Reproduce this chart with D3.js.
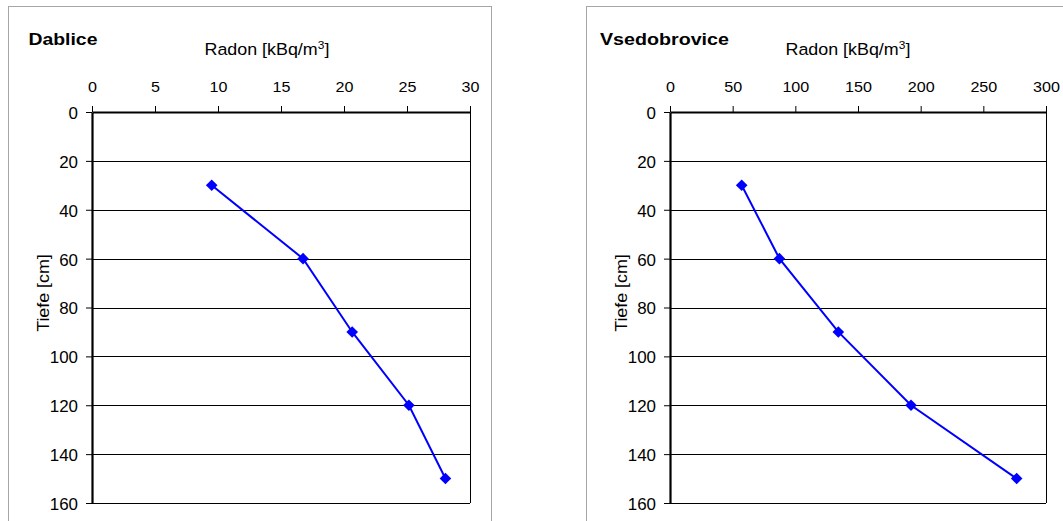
<!DOCTYPE html>
<html>
<head>
<meta charset="utf-8">
<script src="https://cdn.jsdelivr.net/npm/d3@7"></script>
<style>
  html, body { margin: 0; padding: 0; background: #fff; }
  svg { display: block; font-family: "Liberation Sans", Arial, sans-serif; }
</style>
</head>
<body>
<svg id="chart" width="1063" height="521"></svg>
<script>
// Radon soil-gas profiles: concentration vs. depth at two sites
const depths = [30, 60, 90, 120, 150];
const dabliceRadon = [9.5, 16.75, 20.65, 25.15, 28.05];
const vsedobroviceRadon = [57.2, 87.3, 134.3, 192.3, 276.6];
const dabliceTicks = [0, 5, 10, 15, 20, 25, 30];
const vsedobroviceTicks = [0, 50, 100, 150, 200, 250, 300];
const depthTicks = [0, 20, 40, 60, 80, 100, 120, 140, 160];

const svg = d3.select("#chart");
const FONT = "'Liberation Sans', Arial, sans-serif";

// place a text at (x, y) and stretch it horizontally to a given width
function fitText(sel, x, y, width) {
  const w = sel.node().getComputedTextLength();
  sel.attr("x", 0).attr("y", 0)
    .attr("transform", `translate(${x},${y}) scale(${width / w},1)`);
}

// slightly widen axis tick labels, keeping their anchor point fixed
function widenTicks(sel, k) {
  sel.each(function () {
    const t = d3.select(this);
    const tx = +t.attr("x") || 0, ty = +t.attr("y") || 0;
    t.attr("x", 0).attr("y", 0)
      .attr("transform", `translate(${tx},${ty}) scale(${k},1)`);
  });
}

function panel(cfg) {
  const g = svg.append("g");

  // chart frame
  g.append("rect")
    .attr("x", cfg.frame[0] + 0.5).attr("y", cfg.frame[1] + 0.5)
    .attr("width", cfg.frame[2]).attr("height", cfg.frame[3])
    .attr("fill", "#fff").attr("stroke", "#a6a6a6").attr("stroke-width", 1);

  const x = d3.scaleLinear().domain([0, cfg.xMax]).range([cfg.left, cfg.right]);
  const y = d3.scaleLinear().domain([0, 160]).range([cfg.top, cfg.bottom]);

  // horizontal gridlines
  g.append("g").selectAll("line").data(depthTicks.slice(1))
    .join("line")
    .attr("x1", cfg.left).attr("x2", cfg.right)
    .attr("y1", d => Math.round(y(d)) + 0.5).attr("y2", d => Math.round(y(d)) + 0.5)
    .attr("stroke", "#000").attr("stroke-width", 1);

  // right border of plot area
  g.append("line")
    .attr("x1", cfg.right + 0.5).attr("x2", cfg.right + 0.5)
    .attr("y1", cfg.top).attr("y2", cfg.bottom)
    .attr("stroke", "#000").attr("stroke-width", 1);

  // x axis on top
  const xAxis = d3.axisTop(x).tickValues(cfg.xTicks).tickSize(6).tickPadding(14).tickSizeOuter(0);
  const gx = g.append("g").attr("transform", `translate(0,${cfg.top})`).call(xAxis);
  gx.attr("font-size", null).attr("font-family", null);
  gx.select(".domain").attr("stroke-width", 2.2);
  gx.selectAll(".tick text")
    .style("font-size", "15.5px").style("font-family", FONT).attr("fill", "#000");
  widenTicks(gx.selectAll(".tick text"), 1.04);

  // y axis on the left, depth increases downward
  const yAxis = d3.axisLeft(y).tickValues(depthTicks).tickSize(6).tickPadding(8).tickSizeOuter(0);
  const gy = g.append("g").attr("transform", `translate(${cfg.left},0)`).call(yAxis);
  gy.attr("font-size", null).attr("font-family", null);
  gy.select(".domain").attr("stroke-width", 2.2);
  gy.selectAll(".tick text")
    .style("font-size", "16px").style("font-family", FONT).attr("fill", "#000")
    .attr("dy", "0.4em");
  widenTicks(gy.selectAll(".tick text"), 1.06);

  // profile line and diamond markers
  const pts = depths.map((d, i) => [cfg.values[i], d]);
  g.append("path")
    .datum(pts)
    .attr("d", d3.line().x(d => x(d[0])).y(d => y(d[1])))
    .attr("fill", "none").attr("stroke", "#0000ff").attr("stroke-width", 2);

  g.append("g").selectAll("path").data(pts)
    .join("path")
    .attr("transform", d => `translate(${x(d[0])},${y(d[1])})`)
    .attr("d", "M0,-5.8L5.8,0L0,5.8L-5.8,0Z")
    .attr("fill", "#0000ff");

  // titles
  const t = g.append("text")
    .style("font-size", "17px").attr("font-weight", "bold").attr("fill", "#000")
    .text(cfg.title);
  fitText(t, cfg.titleX, 44.5, cfg.titleW);

  const xt = g.append("text").style("font-size", "16.5px").attr("fill", "#000");
  xt.append("tspan").text("Radon [kBq/m");
  xt.append("tspan").style("font-size", "11px").attr("dy", -6).text("3");
  xt.append("tspan").attr("dy", 6).text("]");
  fitText(xt, cfg.xLabelX, 55, 125);

  const yt = g.append("text")
    .attr("text-anchor", "middle")
    .style("font-size", "17px").attr("fill", "#000")
    .text("Tiefe [cm]");
  yt.attr("transform", `translate(${cfg.yLabelX},293) rotate(-90) scale(1.05,1)`);
}

panel({
  frame: [8, 6, 483, 530],
  left: 92, right: 470, top: 112, bottom: 503,
  xMax: 30, xTicks: dabliceTicks, values: dabliceRadon,
  title: "Dablice", titleX: 28.5, titleW: 69, xLabelX: 204.5, yLabelX: 48.5
});

panel({
  frame: [586, 6, 500, 530],
  left: 670, right: 1046, top: 112, bottom: 503,
  xMax: 300, xTicks: vsedobroviceTicks, values: vsedobroviceRadon,
  title: "Vsedobrovice", titleX: 600, titleW: 129, xLabelX: 785.5, yLabelX: 627
});
</script>
</body>
</html>
